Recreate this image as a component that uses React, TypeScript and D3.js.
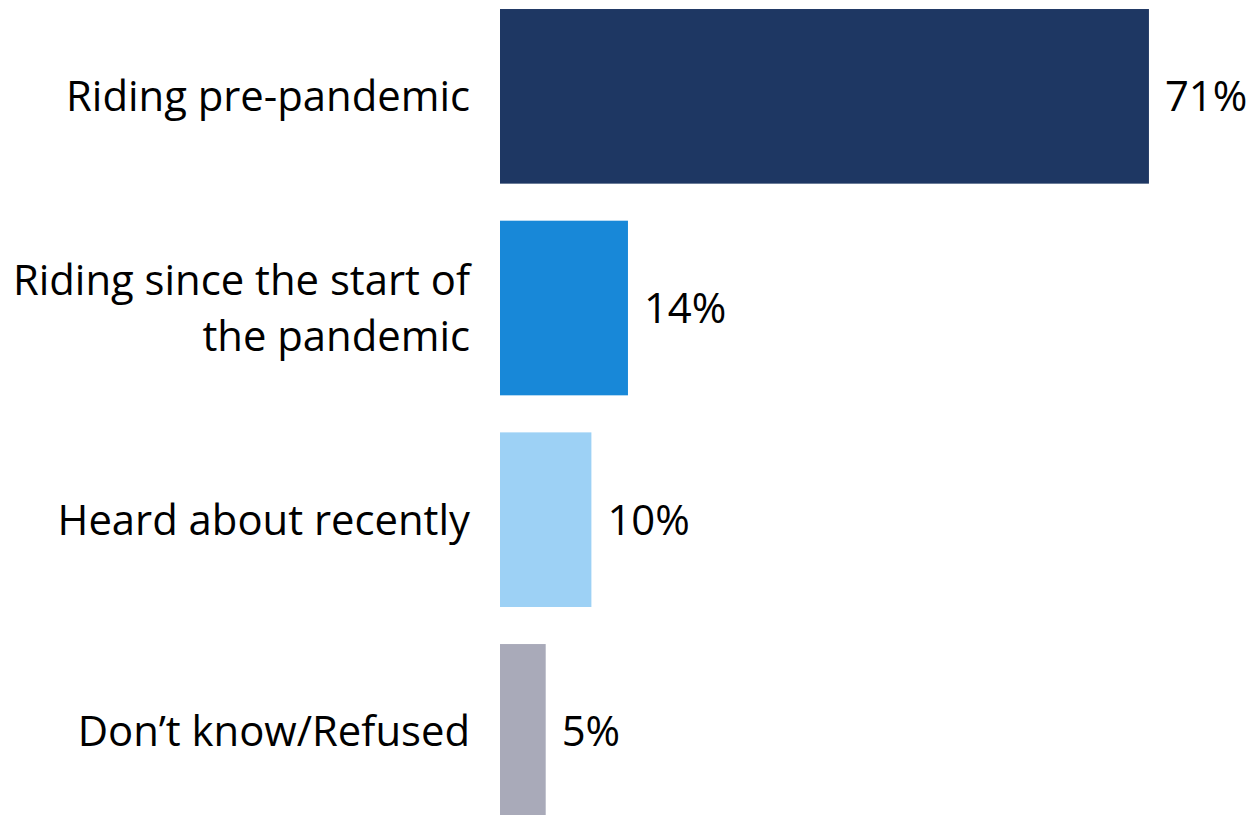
import React from "react";
import * as d3 from "d3";

const categories: string[][] = [
  ["Riding pre-pandemic"],
  ["Riding since the start of", "the pandemic"],
  ["Heard about recently"],
  ["Don\u2019t know/Refused"],
];
const values: number[] = [71, 14, 10, 5];
const colors: string[] = ["#1E3763", "#1888D8", "#9DD1F5", "#A9AAB9"];

const W = 1252;
const H = 815;
const FONT = "'Open Sans', sans-serif";

export default function App() {
  const keys = categories.map((_, i) => String(i));
  const x = d3.scaleLinear().domain([0, 100]).range([500, 500 + 914]);
  const y = d3
    .scaleBand<string>()
    .domain(keys)
    .range([-9.5, 837.2])
    .paddingInner(0.175)
    .paddingOuter(0.0875);
  const lineH = 56;
  const fs = 41.8;

  return (
    <svg
      width={W}
      height={H}
      style={{ position: "fixed", left: 0, top: 0, background: "#fff" }}
      fontFamily={FONT}
    >
      {values.map((v, i) => {
        const y0 = y(String(i))!;
        const bw = y.bandwidth();
        const cy = y0 + bw / 2;
        const lines = categories[i];
        const base = cy + 15 - ((lines.length - 1) * lineH) / 2;
        return (
          <g key={i}>
            <rect x={x(0)} y={y0} width={x(v) - x(0)} height={bw} fill={colors[i]} />
            <text textAnchor="end" fontSize={fs} fill="#000">
              {lines.map((l, j) => (
                <tspan key={j} x={470} y={base + j * lineH}>
                  {l}
                </tspan>
              ))}
            </text>
            <text x={x(v) + 16} y={cy + 15} fontSize={fs} fill="#000">
              {`${v}%`}
            </text>
          </g>
        );
      })}
    </svg>
  );
}
